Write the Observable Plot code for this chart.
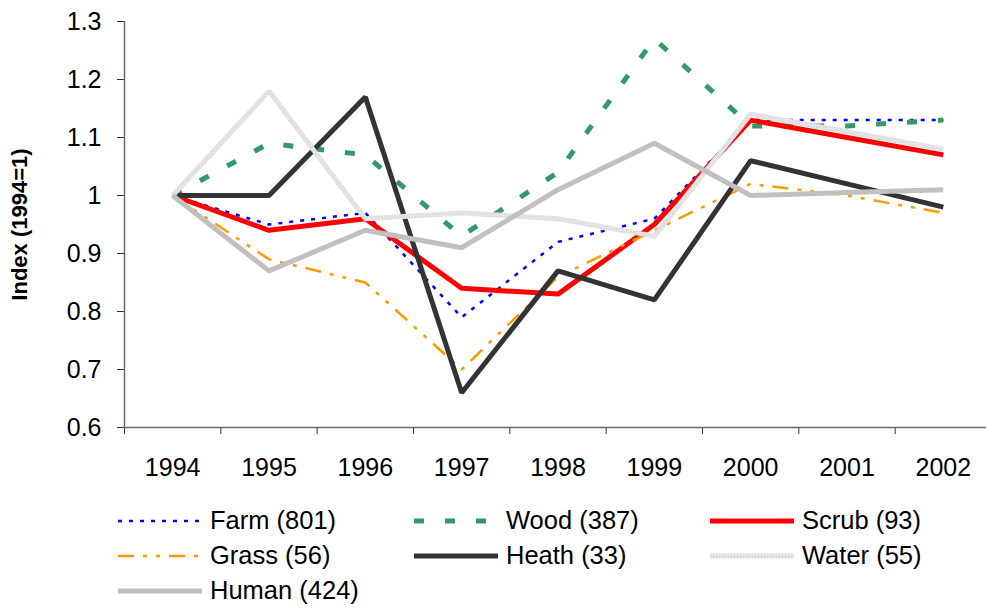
<!DOCTYPE html>
<html>
<head>
<meta charset="utf-8">
<script src="https://cdn.jsdelivr.net/npm/d3@7"></script>
<script src="https://cdn.jsdelivr.net/npm/@observablehq/plot@0.6"></script>
<style>
  html, body { margin: 0; padding: 0; background: #fff; }
  body { width: 986px; font-family: "Liberation Sans", Arial, sans-serif; color: #000; }
  #chart svg { display: block; overflow: visible; }
  #legend {
    display: grid;
    grid-template-columns: 296px 296px 296px;
    grid-auto-rows: 35px;
    padding-left: 118px;
    padding-top: 13px;
  }
  .item { display: flex; align-items: center; font-size: 25.5px; white-space: nowrap; }
  .item svg { width: 84px; height: 12px; margin-right: 8px; flex: none; }
</style>
</head>
<body>
<svg width="0" height="0" style="position:absolute">
  <defs>
    <pattern id="waterTex" width="3" height="3" patternUnits="userSpaceOnUse">
      <rect width="3" height="3" fill="#e3e3e3"/>
      <rect width="1" height="1" fill="#c9c9c9"/>
      <rect x="1.5" y="1.5" width="1" height="1" fill="#f4f4f4"/>
    </pattern>
  </defs>
</svg>
<div id="chart"></div>
<div id="legend"></div>
<script>
// Years on the category axis
const years = [1994, 1995, 1996, 1997, 1998, 1999, 2000, 2001, 2002];

// Index values per habitat (1994 = 1)
const farm  = [1.00, 0.95, 0.97, 0.79, 0.92, 0.96, 1.13, 1.13, 1.13];
const wood  = [1.00, 1.09, 1.07, 0.93, 1.04, 1.27, 1.12, 1.12, 1.13];
const scrub = [1.00, 0.94, 0.96, 0.84, 0.83, 0.95, 1.13, 1.10, 1.07];
const grass = [1.00, 0.89, 0.85, 0.70, 0.86, 0.94, 1.02, 1.00, 0.97];
const heath = [1.00, 1.00, 1.17, 0.66, 0.87, 0.82, 1.06, 1.02, 0.98];
const water = [1.00, 1.18, 0.96, 0.97, 0.96, 0.93, 1.14, 1.11, 1.08];
const human = [1.00, 0.87, 0.94, 0.91, 1.01, 1.09, 1.00, 1.005, 1.01];

// Series names and sample sizes shown in the legend
const names  = ["Farm", "Wood", "Scrub", "Grass", "Heath", "Water", "Human"];
const counts = [801, 387, 93, 56, 33, 55, 424];

// Y-axis ticks and their labels
const yTicks = [0.6, 0.7, 0.8, 0.9, 1.0, 1.1, 1.2, 1.3];
const yTickLabels = ["0.6", "0.7", "0.8", "0.9", "1", "1.1", "1.2", "1.3"];
const yTitle = "Index (1994=1)";

// Line styling for each series
const styles = {
  Farm:  {stroke: "#0000ff", strokeWidth: 2.5, strokeDasharray: "4,7"},
  Wood:  {stroke: "#339966", strokeWidth: 5, strokeDasharray: "10,21"},
  Scrub: {stroke: "#ff0000", strokeWidth: 5},
  Grass: {stroke: "#ff9900", strokeWidth: 2.5, strokeDasharray: "16,9,4,9,4,9"},
  Heath: {stroke: "#333333", strokeWidth: 5},
  Water: {stroke: "url(#waterTex)", strokeWidth: 5},
  Human: {stroke: "#c0c0c0", strokeWidth: 5}
};
const valuesByName = {Farm: farm, Wood: wood, Scrub: scrub, Grass: grass, Heath: heath, Water: water, Human: human};

// Boundaries between year categories, where the tick marks sit
const bounds = years.map(y => y - 0.5).concat([years[years.length - 1] + 0.5]);

const lineMarks = names.map(n =>
  Plot.line(valuesByName[n], {
    x: years,
    y: valuesByName[n],
    strokeLinejoin: "miter",
    strokeLinecap: "butt",
    ...styles[n]
  })
);

const chart = Plot.plot({
  width: 986,
  height: 490,
  marginTop: 21,
  marginBottom: 63,
  marginLeft: 124,
  marginRight: -5,
  style: {fontFamily: "'Liberation Sans', Arial, sans-serif", background: "#fff", color: "#000"},
  x: {type: "linear", domain: [bounds[0], bounds[bounds.length - 1]]},
  y: {domain: [0.6, 1.3]},
  marks: [
    // category labels (no tick marks)
    Plot.axisX({ticks: years, tickSize: 0, tickPadding: 31, fontSize: 25, tickFormat: d => String(d), label: null}),
    // tick marks between categories
    Plot.axisX({ticks: bounds, tickSize: 7, tickFormat: () => "", label: null, stroke: "#333"}),
    Plot.axisY({ticks: yTicks, tickSize: 7, tickPadding: 16, fontSize: 25,
      tickFormat: d => yTickLabels[yTicks.findIndex(t => Math.abs(t - d) < 1e-9)], label: null, stroke: "#333"}),
    Plot.ruleY([0.6], {stroke: "#6b6b6b", strokeWidth: 1.5}),
    Plot.ruleX([bounds[0]], {stroke: "#6b6b6b", strokeWidth: 1.5}),
    Plot.text([yTitle], {frameAnchor: "left", textAnchor: "middle", lineAnchor: "middle", rotate: -90, dx: -105, fontSize: 22, fontWeight: "bold", text: d => d}),
    ...lineMarks
  ]
});
document.getElementById("chart").appendChild(chart);

// Legend below the plot
const legend = d3.select("#legend");
names.forEach((n, i) => {
  const s = styles[n];
  const item = legend.append("div").attr("class", "item");
  const sw = item.append("svg").attr("viewBox", "0 0 84 12");
  sw.append("line")
    .attr("x1", 0).attr("x2", 84).attr("y1", 6).attr("y2", 6)
    .attr("stroke", s.stroke)
    .attr("stroke-width", s.strokeWidth)
    .attr("stroke-dasharray", s.strokeDasharray || null)
    .attr("stroke-linecap", s.strokeDasharray ? "butt" : "round");
  item.append("span").text(`${n} (${counts[i]})`);
});
</script>
</body>
</html>
